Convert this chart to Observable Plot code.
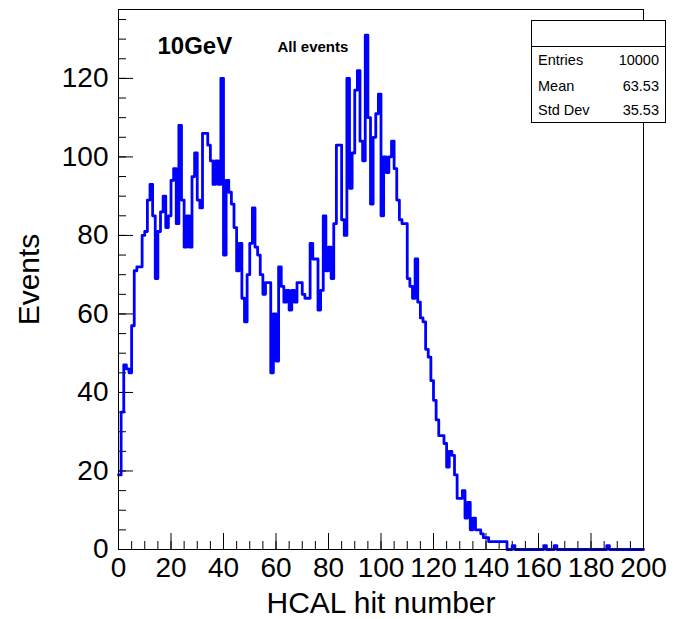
<!DOCTYPE html>
<html>
<head>
<meta charset="utf-8">
<script src="https://cdn.jsdelivr.net/npm/d3@7"></script>
<script src="https://cdn.jsdelivr.net/npm/@observablehq/plot@0.6"></script>
<style>
  body { margin: 0; background: #fff; }
  #wrap { position: relative; width: 673px; height: 619px; font-family: "Liberation Sans", Arial, Helvetica, sans-serif; }
  #wrap svg { position: absolute; left: 0; top: 0; }
  #stats { position: absolute; left: 531px; top: 20px; width: 135px; height: 103px; border: 1px solid #000; background: #fff; box-sizing: border-box; font-size: 14.5px; color: #000; }
  #stats .head { position: absolute; left: 0; right: 0; top: 0; height: 25px; border-bottom: 1px solid #000; }
  #stats .row { position: absolute; left: 6px; right: 6px; height: 18px; line-height: 18px; }
  #stats .row .k { position: absolute; left: 0; }
  #stats .row .v { position: absolute; right: 0; }
</style>
</head>
<body>
<div id="wrap"></div>
<script>
// Histogram: 200 bins of width 1 from 0 to 200 (bin i covers [i, i+1))
const binCounts = [
  19,35,47,46,45,57,71,72,72,80,
  81,89,93,85,69,81,86,90,82,85,
  94,97,83,108,89,77,85,77,95,101,
  89,87,106,106,103,99,93,99,93,120,
  75,94,91,88,82,71,78,64,58,70,
  78,87,77,75,70,65,68,68,45,60,
  48,72,67,63,66,61,66,63,68,68,
  65,64,64,78,74,74,61,66,85,71,
  77,69,83,103,103,84,80,120,92,101,
  117,122,104,99,131,110,88,105,111,116,
  85,100,96,100,104,97,89,84,83,83,
  69,67,64,74,63,59,58,51,49,43,
  38,33,29,29,27,21,25,24,19,13,
  13,15,8,12,5,8,5,5,4,3,
  3,2,2,2,2,2,2,2,0,0,
  1,0,0,0,0,0,0,0,0,0,
  0,0,1,0,0,0,1,0,0,0,
  0,0,0,0,0,0,0,0,0,0,
  0,0,0,0,0,0,1,0,0,0,
  0,0,0,0,0,0,0,0,0,0
];
const xRange = [0, 200];
const yMax = 137.55;
const xMajorTicks = [0, 20, 40, 60, 80, 100, 120, 140, 160, 180, 200];
const xMinorTicks = d3.range(0, 201, 5);
const yMajorTicks = [0, 20, 40, 60, 80, 100, 120];
const yMinorTicks = d3.range(0, 136, 5);
const xTitle = "HCAL hit number";
const yTitle = "Events";
const energyLabel = "10GeV";
const selectionLabel = "All events";
const statLabels = ["Entries", "Mean", "Std Dev"];
const statValues = ["10000", "63.53", "35.53"];

const font = "Liberation Sans, Arial, Helvetica, sans-serif";
const W = 673, H = 619, mL = 118, mR = 30, mT = 9, mB = 70;
const frameW = W - mL - mR, frameH = H - mT - mB;

// step outline points: (bin low edge, content) + closing point at upper edge
const outline = binCounts.map((c, i) => ({edge: i, count: c}));
outline.push({edge: binCounts.length, count: binCounts[binCounts.length - 1]});

const chart = Plot.plot({
  width: W, height: H,
  marginLeft: mL, marginRight: mR, marginTop: mT, marginBottom: mB,
  x: {domain: xRange},
  y: {domain: [0, yMax]},
  style: {fontFamily: font, background: "transparent", color: "#000"},
  marks: [
    Plot.tickY(yMinorTicks, {y: d => d, insetRight: frameW - 8, stroke: "#000"}),
    Plot.tickY(yMajorTicks, {y: d => d, insetRight: frameW - 15, stroke: "#000"}),
    Plot.tickX(xMinorTicks, {x: d => d, insetTop: frameH - 8, stroke: "#000"}),
    Plot.tickX(xMajorTicks, {x: d => d, insetTop: frameH - 16, stroke: "#000"}),
    Plot.axisY({ticks: yMajorTicks, tickSize: 0, tickPadding: 10, fontSize: 28, label: null, tickFormat: d => String(d)}),
    Plot.axisX({ticks: xMajorTicks, tickSize: 0, tickPadding: 8, fontSize: 28, label: null, tickFormat: d => String(d)}),
    Plot.line(outline, {x: "edge", y: "count", curve: "step-after", stroke: "#0000ff", strokeWidth: 2.8}),
    Plot.frame({stroke: "#000", strokeWidth: 1}),
    Plot.text([yTitle], {text: d => d, frameAnchor: "left", dx: -89, rotate: -90, fontSize: 30, textAnchor: "middle", lineAnchor: "middle"}),
    Plot.text([xTitle], {text: d => d, frameAnchor: "bottom", dy: 54, fontSize: 30, textAnchor: "middle", lineAnchor: "middle"}),
    Plot.text([energyLabel], {text: d => d, frameAnchor: "top-left", dx: 39, dy: 37, fontSize: 24, fontWeight: "bold", textAnchor: "start", lineAnchor: "middle"}),
    Plot.text([selectionLabel], {text: d => d, frameAnchor: "top-left", dx: 159, dy: 38, fontSize: 15, fontWeight: "bold", textAnchor: "start", lineAnchor: "middle"})
  ]
});

const wrap = document.getElementById("wrap");
wrap.appendChild(chart);

const stats = document.createElement("div");
stats.id = "stats";
const head = document.createElement("div");
head.className = "head";
stats.appendChild(head);
const rowTops = [30, 56, 80];
statLabels.forEach((lab, i) => {
  const row = document.createElement("div");
  row.className = "row";
  row.style.top = rowTops[i] + "px";
  const k = document.createElement("span"); k.className = "k"; k.textContent = lab;
  const v = document.createElement("span"); v.className = "v"; v.textContent = statValues[i];
  row.appendChild(k); row.appendChild(v);
  stats.appendChild(row);
});
wrap.appendChild(stats);
</script>
</body>
</html>
